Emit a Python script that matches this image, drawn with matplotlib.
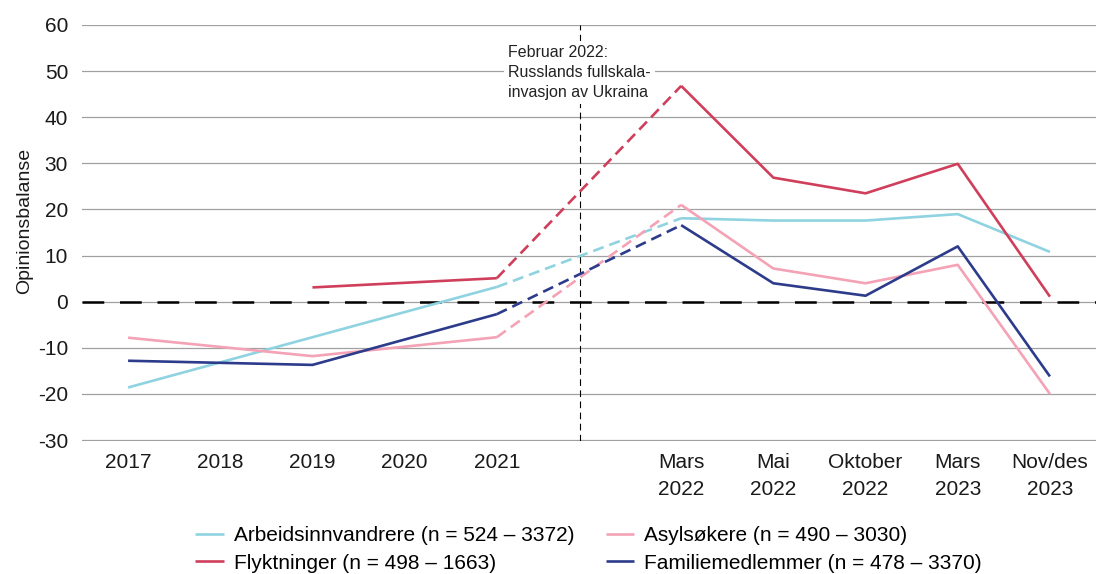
import numpy as np
import matplotlib
matplotlib.use("Agg")
import matplotlib.pyplot as plt

plt.rcParams['font.family'] = ['Liberation Sans', 'DejaVu Sans']
plt.rcParams['axes.unicode_minus'] = False

# kategorier (indeks 5 er et tomt mellomrom for februar 2022)
categories = ['2017', '2018', '2019', '2020', '2021', '',
              'Mars\n2022', 'Mai\n2022', 'Oktober\n2022', 'Mars\n2023', 'Nov/des\n2023']

# opinionsbalanse per gruppe
arbeid = [-18.6, None, -7.7, None, 3.2, None, 18.1, 17.6, 17.6, 19.0, 10.8]
asyl = [-7.8, None, -11.8, None, -7.7, None, 21.0, 7.2, 4.0, 8.0, -20.0]
flykt = [None, None, 3.1, None, 5.1, None, 46.8, 26.9, 23.5, 29.9, 1.1]
famil = [-12.8, None, -13.7, None, -2.7, None, 16.6, 4.0, 1.3, 12.0, -16.2]

labels = ['Arbeidsinnvandrere (n = 524 – 3372)', 'Asylsøkere (n = 490 – 3030)',
          'Flyktninger (n = 498 – 1663)', 'Familiemedlemmer (n = 478 – 3370)']
colors = ['#8fd3e1', '#f4a2b5', '#cf3f5c', '#2d3b8b']
series = [arbeid, asyl, flykt, famil]

fig = plt.figure(figsize=(10.96, 5.74), dpi=100)
ax = fig.add_axes([82 / 1096, 1 - 441 / 574, 1 - 82 / 1096, 416 / 574])

x = np.arange(len(categories))

handles = {}
for vals, col, lab in zip(series, colors, labels):
    v = np.array([np.nan if a is None else a for a in vals], dtype=float)
    # heltrukket før og etter, stiplet over invasjonen
    for lo, hi, ls in [(0, 5, '-'), (4, 7, (0, (4.2, 2.3))), (6, 11, '-')]:
        xs = x[lo:hi]
        ys = v[lo:hi]
        ok = ~np.isnan(ys)
        ln, = ax.plot(xs[ok], ys[ok], color=col, lw=1.9, linestyle=ls,
                      solid_capstyle='butt', dash_capstyle='butt')
        if ls == '-':
            handles[lab] = ln

ax.axhline(0, color='black', lw=1.8, linestyle=(0, (8.7, 6.3)), zorder=1)
ax.axvline(4.9, color='black', lw=0.8, linestyle=(0, (6, 4)), zorder=1)

ax.text(4.12, 55.7, 'Februar 2022:\nRusslands fullskala-\ninvasjon av Ukraina',
        fontsize=11.5, va='top', ha='left', linespacing=1.42, color='#222222',
        bbox=dict(facecolor='white', edgecolor='none', pad=3), zorder=3)

ax.set_xlim(-0.5, 10.5)
ax.set_ylim(-30.2, 60)
ax.set_yticks(np.arange(-30, 61, 10))
ax.set_xticks(x)
ax.set_xticklabels(categories)
for lbl in ax.get_xticklabels():
    lbl.set_linespacing(1.5)
ax.tick_params(axis='both', length=0, labelsize=15, colors='#1a1a1a')
ax.tick_params(axis='x', pad=9)
ax.tick_params(axis='y', pad=10)
ax.grid(axis='y', color='#a0a0a0', lw=0.9)
ax.set_axisbelow(True)
for s in ax.spines.values():
    s.set_visible(False)

ax.set_ylabel('Opinionsbalanse', fontsize=14, color='#1a1a1a')
ax.yaxis.set_label_coords(-0.048, 0.53)

order = [labels[0], labels[2], labels[1], labels[3]]
fig.legend([handles[l] for l in order], order, ncol=2, frameon=False,
           loc='upper left', bbox_to_anchor=(185 / 1096, 1 - 516 / 574),
           fontsize=15, handlelength=1.35, handletextpad=0.5,
           columnspacing=1.5, labelspacing=0.4, borderpad=0)

fig.savefig('out.png', dpi=100)
